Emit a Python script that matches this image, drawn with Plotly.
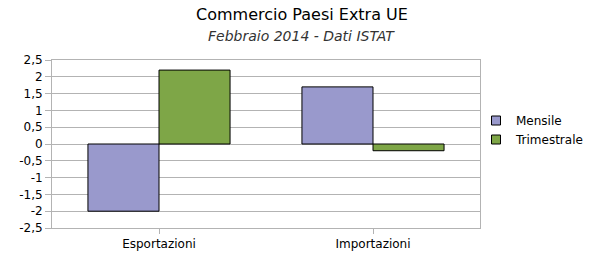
import plotly.graph_objects as go

categories = ["Esportazioni", "Importazioni"]
mensile = [-2.0, 1.7]
trimestrale = [2.2, -0.2]
series_names = ["Mensile", "Trimestrale"]
series_colors = ["#9999cc", "#7ea647"]
tick_vals = [2.5, 2, 1.5, 1, 0.5, 0, -0.5, -1, -1.5, -2, -2.5]
tick_text = ["2,5", "2", "1,5", "1", "0,5", "0", "-0,5", "-1", "-1,5", "-2", "-2,5"]
title_text = "Commercio Paesi Extra UE"
subtitle_text = "Febbraio 2014 - Dati ISTAT"

FONT = "DejaVu Sans"
GRID = "#b3b3b3"
W, H = 600, 260
ML, MR, MT, MB = 52, 120, 60, 32
PW, PH = W - ML - MR, H - MT - MB

fig = go.Figure()
for name, vals, col in zip(series_names, [mensile, trimestrale], series_colors):
    fig.add_trace(go.Bar(x=categories, y=vals, name=name, showlegend=False,
                         marker=dict(color=col, line=dict(color="black", width=1))))
# legend entries with small square keys
for name, col in zip(series_names, series_colors):
    fig.add_trace(go.Scatter(x=[None], y=[None], mode="markers", name=name,
                             marker=dict(symbol="square", size=9, color=col,
                                         line=dict(color="black", width=1))))

def px_x(px):
    return (px - ML) / PW

def px_y(py):
    return (H - MB - py) / PH

fig.update_layout(
    width=W, height=H,
    margin=dict(l=ML, r=MR, t=MT, b=MB, autoexpand=False),
    paper_bgcolor="white", plot_bgcolor="white",
    barmode="group", bargap=0.336, bargroupgap=0,
    font=dict(family=FONT, size=12, color="black"),
    showlegend=True,
    legend=dict(x=px_x(476), xanchor="left", y=px_y(130), yanchor="middle",
                font=dict(family=FONT, size=12, color="black"),
                bgcolor="rgba(0,0,0,0)", borderwidth=0,
                itemwidth=30, tracegroupgap=0),
    annotations=[
        dict(text=title_text, x=px_x(301.5), y=px_y(14.5), xref="paper", yref="paper",
             yanchor="middle", showarrow=False,
             font=dict(family=FONT, size=16, color="black")),
        dict(text="<i>" + subtitle_text + "</i>", x=px_x(301.5), y=px_y(36),
             xref="paper", yref="paper", yanchor="middle", showarrow=False,
             font=dict(family=FONT, size=14, color="#333333")),
    ],
)

fig.update_xaxes(
    showgrid=False, showline=True, linecolor=GRID, linewidth=1, mirror=True,
    ticks="outside", ticklen=5, tickcolor=GRID,
    tickfont=dict(family=FONT, size=12, color="black"),
)
fig.update_yaxes(
    range=[-2.5, 2.5], tickvals=tick_vals, ticktext=tick_text,
    showgrid=True, gridcolor=GRID, gridwidth=1,
    zeroline=True, zerolinecolor=GRID, zerolinewidth=1,
    showline=True, linecolor=GRID, linewidth=1, mirror=True,
    ticks="outside", ticklen=6, tickcolor=GRID,
    tickfont=dict(family=FONT, size=12, color="black"),
)

fig.write_html("out.html")
